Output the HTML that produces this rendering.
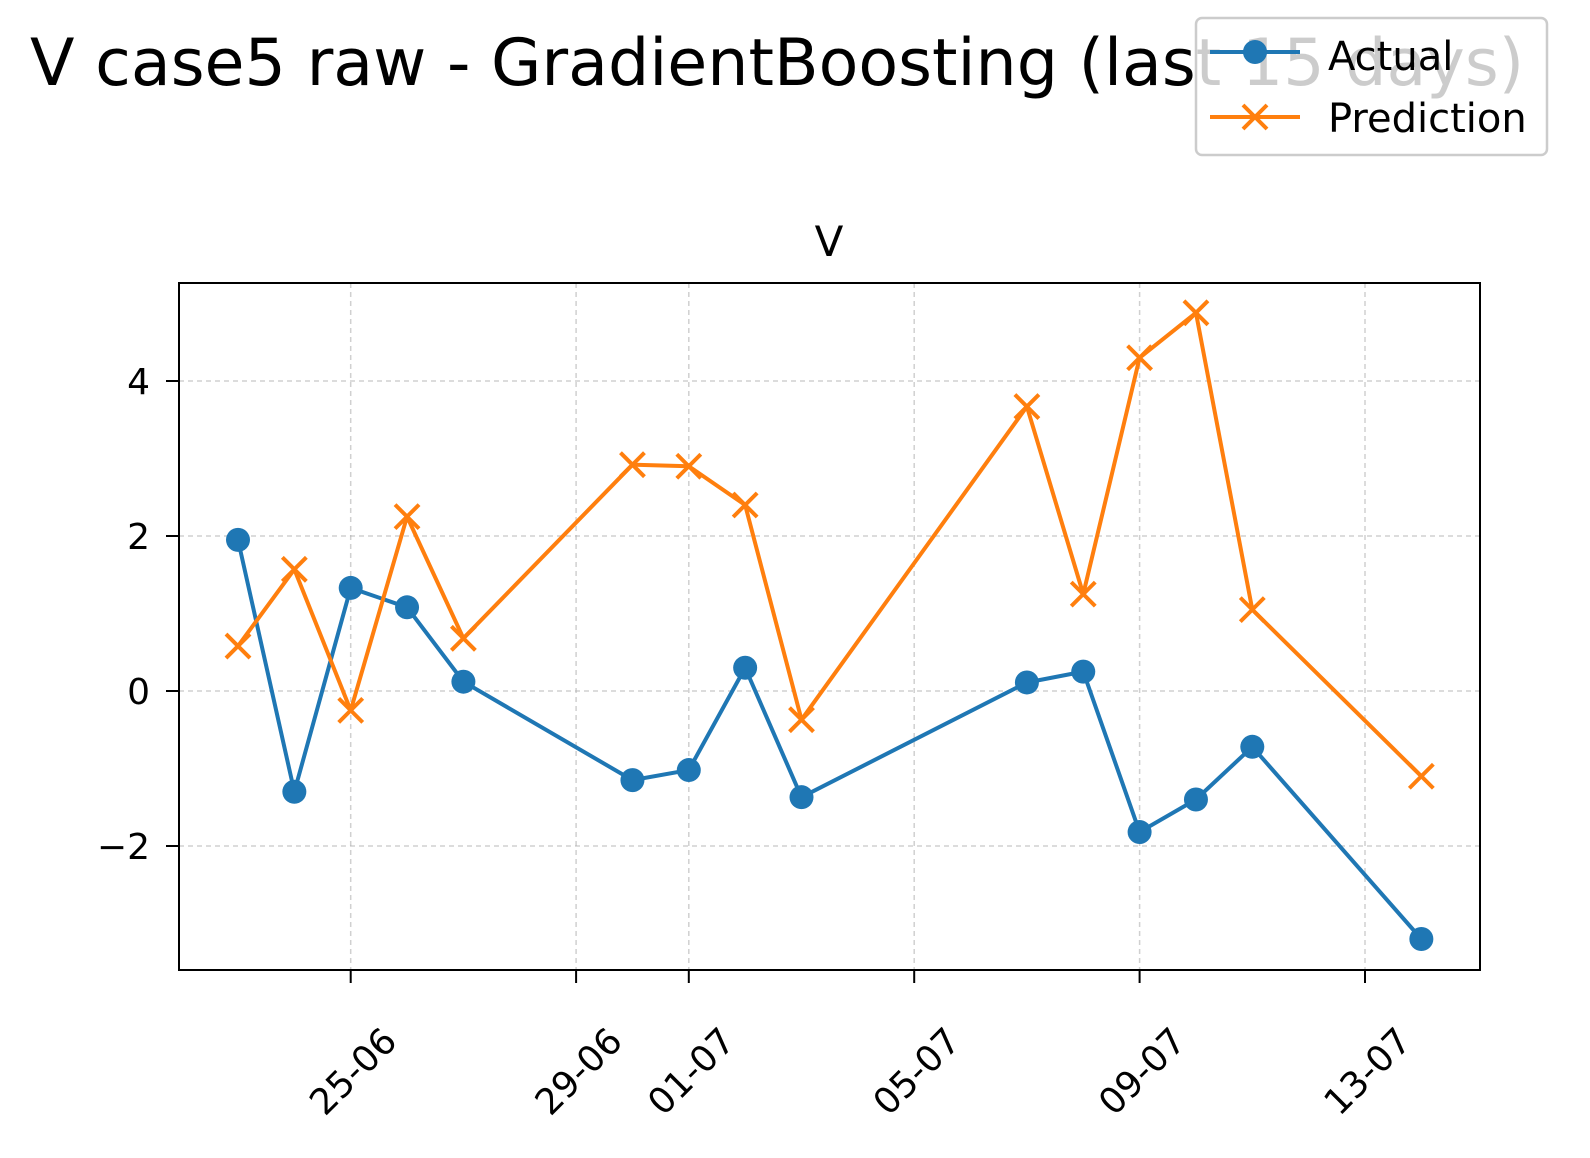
<!DOCTYPE html>
<html><head><meta charset="utf-8"><style>
html,body{margin:0;padding:0;background:#fff;}
svg{display:block;font-family:"DejaVu Sans","Liberation Sans",sans-serif;}
</style></head><body>
<svg id="chart" width="1590" height="1158" viewBox="0 0 1590 1158">
<text x="30" y="85" font-size="65" fill="#000">V case5 raw - GradientBoosting (last 15 days)</text>
<text x="829" y="256" font-size="42" text-anchor="middle" fill="#000">V</text>
<g id="grid"></g>
<g id="yticks"></g>
<g id="xticks"></g>
<g id="series"></g>
<rect x="179" y="283" width="1301" height="687" fill="none" stroke="#000" stroke-width="2"/>
<g>
<rect x="1196" y="18" width="351" height="137" rx="6" fill="#fff" fill-opacity="0.8" stroke="#ccc" stroke-width="2.5"/>
<g>
<line x1="1210" y1="52" x2="1300" y2="52" stroke="#1f77b4" stroke-width="4"/>
<circle cx="1255" cy="52" r="12" fill="#1f77b4"/>
<text x="1328" y="70" font-size="40" fill="#000">Actual</text></g>
<g>
<line x1="1210" y1="117" x2="1300" y2="117" stroke="#ff7f0e" stroke-width="4"/>
<path d="M1243 105 L1267 129 M1243 129 L1267 105" stroke="#ff7f0e" stroke-width="4"/>
<text x="1328" y="132" font-size="40" fill="#000">Prediction</text></g>
</g>
</svg>
<script>
const days = [0,1,2,3,4,7,8,9,10,14,15,16,17,18,21];
const actual = [1.95,-1.3,1.33,1.08,0.12,-1.15,-1.02,0.3,-1.37,0.11,0.25,-1.82,-1.4,-0.72,-3.2];
const prediction = [0.58,1.57,-0.25,2.25,0.68,2.92,2.9,2.4,-0.37,3.67,1.25,4.3,4.88,1.05,-1.1];
const yTicks = [-2,0,2,4];
const yTickLabels = ["\u22122","0","2","4"];
const xTickDays = [2,6,8,12,16,20];
const xTickLabels = ["25-06","29-06","01-07","05-07","09-07","13-07"];

const NS="http://www.w3.org/2000/svg";
const xs = d => 238 + d*56.35;
const ys = v => 691 - v*77.5;
function mk(tag, attrs, parent){const e=document.createElementNS(NS,tag);for(const k in attrs)e.setAttribute(k,attrs[k]);parent.appendChild(e);return e;}
const grid=document.getElementById('grid'), yt=document.getElementById('yticks'), xt=document.getElementById('xticks'), ser=document.getElementById('series');
yTicks.forEach((v,i)=>{
  const y=ys(v);
  const g=mk('line',{x1:179,x2:1480,y1:y,y2:y,stroke:'#b0b0b0','stroke-width':1.5,'stroke-dasharray':'5,4','stroke-opacity':0.6},grid);
  
  
  const t=mk('line',{x1:166,x2:179,y1:y,y2:y,stroke:'#000','stroke-width':2},yt);
  
  
  const l=mk('text',{x:150,y:y+13,'font-size':36,'text-anchor':'end',fill:'#000'},yt);
  l.textContent=yTickLabels[i];
  
  
});
xTickDays.forEach((d,i)=>{
  const x=xs(d);
  const g=mk('line',{x1:x,x2:x,y1:283,y2:970,stroke:'#b0b0b0','stroke-width':1.5,'stroke-dasharray':'5,4','stroke-opacity':0.6},grid);
  
  
  const t=mk('line',{x1:x,x2:x,y1:970,y2:983,stroke:'#000','stroke-width':2},xt);
  
  
  const l=mk('text',{x:0,y:13,'font-size':36,'text-anchor':'middle',fill:'#000',transform:`translate(${x+2},${1071}) rotate(-45)`},xt);
  l.textContent=xTickLabels[i];
  
  
});
function line(vals,color,name){
  const p=mk('polyline',{points:vals.map((v,i)=>xs(days[i])+','+ys(v)).join(' '),fill:'none',stroke:color,'stroke-width':4,'stroke-linejoin':'round'},ser);
  
  
}
line(actual,'#1f77b4','actual');
line(prediction,'#ff7f0e','prediction');
actual.forEach((v,i)=>{
  const c=mk('circle',{cx:xs(days[i]),cy:ys(v),r:12,fill:'#1f77b4'},ser);
  
  
});
prediction.forEach((v,i)=>{
  const x=xs(days[i]),y=ys(v);
  const m=mk('path',{d:`M${x-12} ${y-12} L${x+12} ${y+12} M${x-12} ${y+12} L${x+12} ${y-12}`,stroke:'#ff7f0e','stroke-width':4},ser);
  
  
});
</script>
</body></html>
